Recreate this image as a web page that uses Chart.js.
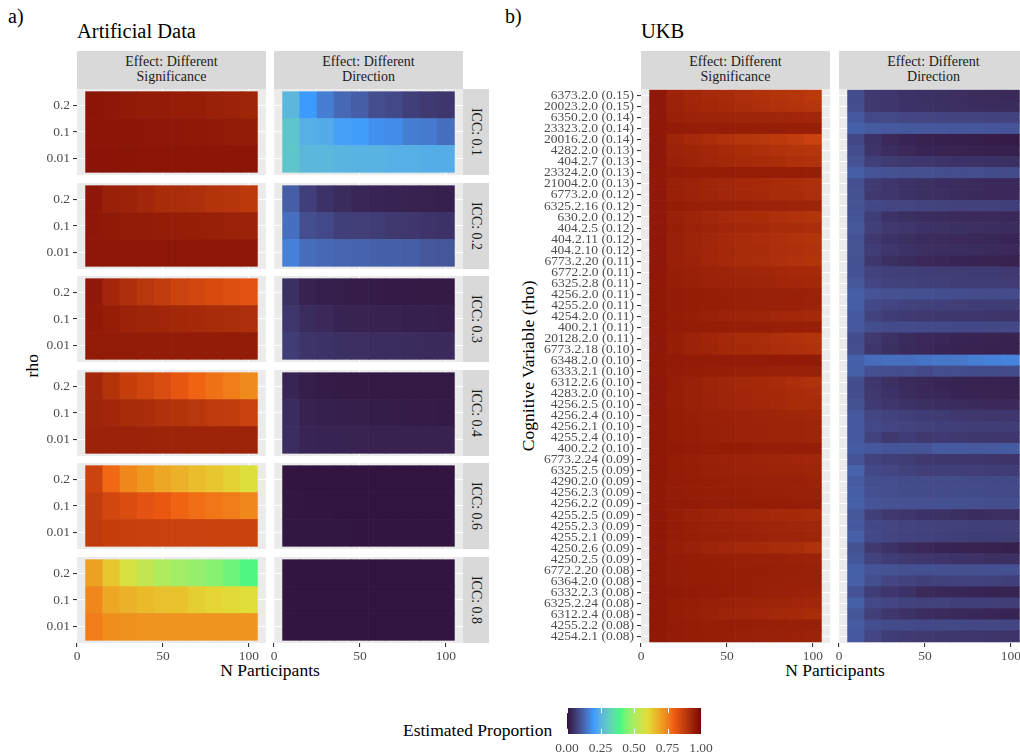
<!DOCTYPE html>
<html>
<head>
<meta charset="utf-8">
<title>Estimated proportion heatmaps</title>
<script src="https://cdn.jsdelivr.net/npm/chart.js@4.4.0/dist/chart.umd.min.js"></script>
<style>
  html, body { margin: 0; padding: 0; background: #ffffff; }
  body {
    width: 1020px; height: 756px; position: relative; overflow: hidden;
    font-family: "Liberation Serif", "Times New Roman", serif; color: #000;
  }
  canvas { position: absolute; display: block; }
  .txt { position: absolute; white-space: nowrap; line-height: 1; }
  .title { font-size: 20.5px; }
  .tag { font-size: 20px; }
  .axis-title { font-size: 17.5px; text-align: center; width: 300px; height: 17.5px; line-height: 17.5px; }
  .rot { transform: rotate(-90deg); }
  .strip { position: absolute; background: #d9d9d9; overflow: hidden; }
  .strip-text { position: absolute; text-align: center; font-size: 14px; color: #1a1a1a; white-space: nowrap; }
</style>
</head>
<body>

<div class="txt tag" style="left:8px; top:6px;">a)</div>
<div class="txt title" style="left:77px; top:20.5px;">Artificial Data</div>
<div class="txt tag" style="left:505px; top:6px;">b)</div>
<div class="txt title" style="left:641px; top:20.5px;">UKB</div>

<div class="txt axis-title rot" style="left:-117px; top:357px;">rho</div>
<div class="txt axis-title rot" style="left:379px; top:357px;">Cognitive Variable (rho)</div>
<div class="txt axis-title" style="left:120px; top:662px;">N Participants</div>
<div class="txt axis-title" style="left:685px; top:662px;">N Participants</div>
<div class="txt" style="left:403px; top:722px; font-size:17.5px;">Estimated Proportion</div>

<script>
Chart.defaults.font.family = "'Liberation Serif', 'Times New Roman', serif";

// ---- data -------------------------------------------------------------

const nParticipants = [10, 20, 30, 40, 50, 60, 70, 80, 90, 100];
const xTickLabels = [0, 50, 100];
const xGridBreaks = [0, 25, 50, 75, 100];
const legendTicks = [0, 0.25, 0.5, 0.75, 1];

const rhoLevels = ['0.01', '0.1', '0.2'];
const iccLevels = ['0.1', '0.2', '0.3', '0.4', '0.6', '0.8'];
const effectLabels = [['Effect: Different', 'Significance'], ['Effect: Different', 'Direction']];

// artificial data: one row per rho (0.01, 0.1, 0.2), one value per N
const sigIcc01 = [
  [0.972, 0.972, 0.971, 0.970, 0.970, 0.970, 0.970, 0.970, 0.969, 0.969],
  [0.970, 0.970, 0.970, 0.968, 0.966, 0.965, 0.963, 0.960, 0.958, 0.955],
  [0.970, 0.965, 0.960, 0.955, 0.955, 0.950, 0.950, 0.945, 0.940, 0.935]
];
const sigIcc02 = [
  [0.968, 0.968, 0.967, 0.967, 0.967, 0.967, 0.966, 0.966, 0.966, 0.966],
  [0.965, 0.960, 0.958, 0.955, 0.953, 0.950, 0.948, 0.946, 0.942, 0.940],
  [0.965, 0.945, 0.940, 0.930, 0.920, 0.915, 0.910, 0.900, 0.895, 0.885]
];
const sigIcc03 = [
  [0.958, 0.957, 0.957, 0.956, 0.956, 0.956, 0.955, 0.955, 0.955, 0.955],
  [0.960, 0.950, 0.942, 0.935, 0.932, 0.928, 0.922, 0.918, 0.915, 0.910],
  [0.962, 0.930, 0.910, 0.890, 0.875, 0.860, 0.850, 0.840, 0.830, 0.820]
];
const sigIcc04 = [
  [0.942, 0.940, 0.940, 0.940, 0.938, 0.938, 0.937, 0.937, 0.936, 0.936],
  [0.935, 0.930, 0.920, 0.915, 0.905, 0.900, 0.890, 0.880, 0.875, 0.865],
  [0.930, 0.900, 0.870, 0.855, 0.835, 0.815, 0.790, 0.770, 0.755, 0.735]
];
const sigIcc06 = [
  [0.880, 0.870, 0.868, 0.867, 0.866, 0.865, 0.865, 0.864, 0.864, 0.863],
  [0.875, 0.850, 0.835, 0.820, 0.810, 0.790, 0.775, 0.765, 0.755, 0.740],
  [0.860, 0.785, 0.740, 0.715, 0.690, 0.675, 0.655, 0.640, 0.620, 0.590]
];
const sigIcc08 = [
  [0.755, 0.730, 0.725, 0.720, 0.720, 0.720, 0.720, 0.720, 0.720, 0.720],
  [0.740, 0.690, 0.675, 0.660, 0.650, 0.645, 0.625, 0.615, 0.605, 0.595],
  [0.700, 0.640, 0.580, 0.540, 0.510, 0.490, 0.470, 0.455, 0.430, 0.405]
];

const dirIcc01 = [
  [0.290, 0.260, 0.260, 0.255, 0.250, 0.250, 0.245, 0.245, 0.240, 0.240],
  [0.290, 0.245, 0.235, 0.210, 0.205, 0.185, 0.180, 0.160, 0.155, 0.140],
  [0.260, 0.200, 0.160, 0.130, 0.115, 0.090, 0.085, 0.070, 0.062, 0.056]
];
const dirIcc02 = [
  [0.165, 0.135, 0.130, 0.125, 0.123, 0.120, 0.120, 0.115, 0.105, 0.103],
  [0.140, 0.090, 0.085, 0.070, 0.068, 0.065, 0.060, 0.057, 0.053, 0.050],
  [0.115, 0.070, 0.050, 0.040, 0.033, 0.030, 0.027, 0.025, 0.023, 0.021]
];
const dirIcc03 = [
  [0.065, 0.052, 0.050, 0.045, 0.043, 0.042, 0.041, 0.040, 0.039, 0.038],
  [0.055, 0.040, 0.035, 0.028, 0.026, 0.025, 0.024, 0.022, 0.021, 0.020],
  [0.045, 0.025, 0.020, 0.018, 0.016, 0.015, 0.014, 0.013, 0.012, 0.012]
];
const dirIcc04 = [
  [0.042, 0.030, 0.028, 0.027, 0.026, 0.025, 0.025, 0.024, 0.024, 0.024],
  [0.040, 0.025, 0.022, 0.020, 0.018, 0.017, 0.016, 0.015, 0.015, 0.014],
  [0.030, 0.018, 0.015, 0.013, 0.012, 0.011, 0.010, 0.010, 0.010, 0.010]
];
const dirIcc06 = [
  [0.008, 0.007, 0.007, 0.007, 0.006, 0.006, 0.006, 0.006, 0.006, 0.006],
  [0.007, 0.006, 0.006, 0.005, 0.005, 0.005, 0.005, 0.005, 0.005, 0.005],
  [0.006, 0.005, 0.005, 0.004, 0.004, 0.004, 0.004, 0.004, 0.004, 0.004]
];
const dirIcc08 = [
  [0.006, 0.005, 0.005, 0.005, 0.005, 0.005, 0.005, 0.005, 0.005, 0.005],
  [0.006, 0.005, 0.005, 0.005, 0.005, 0.005, 0.005, 0.005, 0.005, 0.005],
  [0.006, 0.005, 0.005, 0.005, 0.005, 0.005, 0.005, 0.005, 0.005, 0.005]
];

const artSignif = [sigIcc01, sigIcc02, sigIcc03, sigIcc04, sigIcc06, sigIcc08];
const artDirect = [dirIcc01, dirIcc02, dirIcc03, dirIcc04, dirIcc06, dirIcc08];

// UKB variables, listed top to bottom
const ukbVariables = [
  '6373.2.0 (0.15)', '20023.2.0 (0.15)', '6350.2.0 (0.14)', '23323.2.0 (0.14)', '20016.2.0 (0.14)',
  '4282.2.0 (0.13)', '404.2.7 (0.13)', '23324.2.0 (0.13)', '21004.2.0 (0.13)', '6773.2.0 (0.12)',
  '6325.2.16 (0.12)', '630.2.0 (0.12)', '404.2.5 (0.12)', '404.2.11 (0.12)', '404.2.10 (0.12)',
  '6773.2.20 (0.11)', '6772.2.0 (0.11)', '6325.2.8 (0.11)', '4256.2.0 (0.11)', '4255.2.0 (0.11)',
  '4254.2.0 (0.11)', '400.2.1 (0.11)', '20128.2.0 (0.11)', '6773.2.18 (0.10)', '6348.2.0 (0.10)',
  '6333.2.1 (0.10)', '6312.2.6 (0.10)', '4283.2.0 (0.10)', '4256.2.5 (0.10)', '4256.2.4 (0.10)',
  '4256.2.1 (0.10)', '4255.2.4 (0.10)', '400.2.2 (0.10)', '6773.2.24 (0.09)', '6325.2.5 (0.09)',
  '4290.2.0 (0.09)', '4256.2.3 (0.09)', '4256.2.2 (0.09)', '4255.2.5 (0.09)', '4255.2.3 (0.09)',
  '4255.2.1 (0.09)', '4250.2.6 (0.09)', '4250.2.5 (0.09)', '6772.2.20 (0.08)', '6364.2.0 (0.08)',
  '6332.2.3 (0.08)', '6325.2.24 (0.08)', '6312.2.4 (0.08)', '4255.2.2 (0.08)', '4254.2.1 (0.08)'
];

const ukbSignif = [
  [0.962, 0.940, 0.930, 0.925, 0.920, 0.910, 0.905, 0.900, 0.895, 0.885],
  [0.962, 0.940, 0.932, 0.927, 0.922, 0.915, 0.910, 0.905, 0.900, 0.895],
  [0.962, 0.945, 0.940, 0.938, 0.936, 0.935, 0.934, 0.933, 0.932, 0.930],
  [0.963, 0.955, 0.952, 0.950, 0.950, 0.950, 0.950, 0.950, 0.948, 0.948],
  [0.962, 0.935, 0.925, 0.915, 0.905, 0.895, 0.890, 0.885, 0.875, 0.865],
  [0.962, 0.940, 0.935, 0.930, 0.922, 0.915, 0.910, 0.905, 0.900, 0.895],
  [0.962, 0.945, 0.938, 0.932, 0.927, 0.922, 0.918, 0.915, 0.910, 0.905],
  [0.963, 0.955, 0.952, 0.952, 0.952, 0.950, 0.950, 0.950, 0.950, 0.948],
  [0.962, 0.945, 0.940, 0.935, 0.930, 0.925, 0.922, 0.918, 0.915, 0.910],
  [0.962, 0.945, 0.940, 0.935, 0.930, 0.927, 0.924, 0.920, 0.917, 0.913],
  [0.962, 0.952, 0.948, 0.946, 0.944, 0.942, 0.940, 0.940, 0.938, 0.936],
  [0.962, 0.945, 0.938, 0.930, 0.925, 0.920, 0.915, 0.910, 0.905, 0.900],
  [0.962, 0.948, 0.942, 0.936, 0.932, 0.928, 0.924, 0.920, 0.917, 0.914],
  [0.962, 0.945, 0.938, 0.930, 0.924, 0.918, 0.914, 0.910, 0.905, 0.900],
  [0.962, 0.945, 0.938, 0.932, 0.926, 0.920, 0.917, 0.912, 0.910, 0.906],
  [0.962, 0.945, 0.940, 0.930, 0.925, 0.920, 0.915, 0.910, 0.905, 0.900],
  [0.962, 0.948, 0.944, 0.940, 0.936, 0.933, 0.930, 0.928, 0.925, 0.922],
  [0.963, 0.950, 0.946, 0.942, 0.940, 0.937, 0.934, 0.932, 0.930, 0.928],
  [0.963, 0.955, 0.952, 0.950, 0.948, 0.946, 0.945, 0.944, 0.943, 0.942],
  [0.963, 0.955, 0.952, 0.950, 0.948, 0.946, 0.944, 0.943, 0.942, 0.940],
  [0.963, 0.952, 0.948, 0.945, 0.940, 0.937, 0.934, 0.930, 0.928, 0.925],
  [0.963, 0.956, 0.954, 0.952, 0.951, 0.950, 0.950, 0.949, 0.948, 0.947],
  [0.962, 0.948, 0.940, 0.932, 0.926, 0.920, 0.915, 0.910, 0.905, 0.900],
  [0.962, 0.948, 0.940, 0.934, 0.928, 0.923, 0.918, 0.914, 0.910, 0.905],
  [0.963, 0.958, 0.956, 0.955, 0.955, 0.955, 0.955, 0.955, 0.956, 0.955],
  [0.963, 0.955, 0.952, 0.950, 0.948, 0.947, 0.946, 0.945, 0.944, 0.943],
  [0.962, 0.950, 0.944, 0.938, 0.932, 0.926, 0.922, 0.918, 0.913, 0.905],
  [0.962, 0.950, 0.945, 0.940, 0.935, 0.930, 0.926, 0.922, 0.918, 0.914],
  [0.962, 0.950, 0.945, 0.940, 0.935, 0.930, 0.927, 0.924, 0.920, 0.917],
  [0.963, 0.953, 0.948, 0.945, 0.942, 0.940, 0.938, 0.935, 0.933, 0.930],
  [0.963, 0.953, 0.950, 0.946, 0.944, 0.942, 0.940, 0.938, 0.936, 0.934],
  [0.963, 0.953, 0.950, 0.946, 0.944, 0.942, 0.940, 0.938, 0.936, 0.934],
  [0.963, 0.957, 0.955, 0.953, 0.952, 0.952, 0.951, 0.950, 0.950, 0.950],
  [0.963, 0.952, 0.948, 0.945, 0.942, 0.940, 0.937, 0.934, 0.932, 0.930],
  [0.963, 0.953, 0.950, 0.947, 0.944, 0.942, 0.940, 0.938, 0.936, 0.934],
  [0.963, 0.955, 0.952, 0.950, 0.948, 0.946, 0.945, 0.944, 0.943, 0.942],
  [0.963, 0.955, 0.953, 0.951, 0.950, 0.948, 0.947, 0.946, 0.945, 0.944],
  [0.963, 0.957, 0.955, 0.954, 0.953, 0.953, 0.952, 0.952, 0.951, 0.951],
  [0.962, 0.952, 0.945, 0.940, 0.935, 0.932, 0.928, 0.925, 0.922, 0.918],
  [0.963, 0.953, 0.948, 0.945, 0.942, 0.940, 0.937, 0.935, 0.932, 0.930],
  [0.963, 0.954, 0.950, 0.947, 0.944, 0.942, 0.940, 0.938, 0.936, 0.934],
  [0.962, 0.950, 0.944, 0.938, 0.932, 0.926, 0.922, 0.918, 0.915, 0.905],
  [0.963, 0.955, 0.952, 0.950, 0.948, 0.946, 0.944, 0.943, 0.942, 0.940],
  [0.963, 0.956, 0.954, 0.952, 0.950, 0.949, 0.948, 0.947, 0.946, 0.945],
  [0.963, 0.956, 0.954, 0.952, 0.950, 0.949, 0.947, 0.946, 0.945, 0.944],
  [0.965, 0.960, 0.958, 0.956, 0.953, 0.950, 0.947, 0.944, 0.942, 0.940],
  [0.963, 0.954, 0.950, 0.946, 0.943, 0.940, 0.937, 0.934, 0.932, 0.930],
  [0.963, 0.953, 0.948, 0.943, 0.938, 0.933, 0.930, 0.926, 0.922, 0.915],
  [0.963, 0.955, 0.952, 0.950, 0.950, 0.950, 0.948, 0.948, 0.947, 0.946],
  [0.963, 0.955, 0.952, 0.950, 0.948, 0.946, 0.944, 0.943, 0.942, 0.940]
];

const ukbDirect = [
  [0.090, 0.060, 0.055, 0.050, 0.047, 0.045, 0.043, 0.040, 0.038, 0.036],
  [0.090, 0.060, 0.055, 0.050, 0.048, 0.046, 0.044, 0.042, 0.040, 0.040],
  [0.108, 0.085, 0.083, 0.080, 0.080, 0.078, 0.077, 0.076, 0.075, 0.075],
  [0.118, 0.110, 0.108, 0.106, 0.105, 0.105, 0.104, 0.103, 0.102, 0.100],
  [0.082, 0.050, 0.035, 0.030, 0.025, 0.022, 0.020, 0.018, 0.016, 0.015],
  [0.090, 0.052, 0.042, 0.035, 0.030, 0.028, 0.026, 0.024, 0.023, 0.022],
  [0.098, 0.070, 0.062, 0.058, 0.055, 0.052, 0.050, 0.048, 0.047, 0.046],
  [0.115, 0.100, 0.097, 0.095, 0.094, 0.092, 0.090, 0.090, 0.088, 0.088],
  [0.094, 0.062, 0.055, 0.050, 0.045, 0.042, 0.040, 0.038, 0.036, 0.035],
  [0.098, 0.060, 0.055, 0.050, 0.046, 0.043, 0.040, 0.038, 0.036, 0.035],
  [0.098, 0.085, 0.080, 0.078, 0.076, 0.074, 0.073, 0.072, 0.071, 0.070],
  [0.100, 0.065, 0.050, 0.045, 0.042, 0.040, 0.038, 0.036, 0.035, 0.034],
  [0.103, 0.070, 0.060, 0.055, 0.050, 0.048, 0.046, 0.044, 0.042, 0.040],
  [0.098, 0.060, 0.050, 0.045, 0.040, 0.038, 0.036, 0.034, 0.032, 0.030],
  [0.098, 0.065, 0.055, 0.050, 0.046, 0.044, 0.042, 0.040, 0.038, 0.036],
  [0.098, 0.058, 0.045, 0.040, 0.035, 0.033, 0.030, 0.028, 0.026, 0.025],
  [0.098, 0.075, 0.070, 0.068, 0.066, 0.064, 0.063, 0.062, 0.061, 0.060],
  [0.103, 0.080, 0.075, 0.072, 0.070, 0.068, 0.066, 0.065, 0.064, 0.063],
  [0.115, 0.100, 0.096, 0.095, 0.094, 0.092, 0.090, 0.089, 0.088, 0.087],
  [0.115, 0.085, 0.078, 0.075, 0.072, 0.070, 0.068, 0.066, 0.065, 0.064],
  [0.108, 0.075, 0.065, 0.062, 0.060, 0.058, 0.056, 0.055, 0.054, 0.053],
  [0.108, 0.090, 0.088, 0.087, 0.086, 0.085, 0.085, 0.085, 0.084, 0.084],
  [0.090, 0.060, 0.048, 0.040, 0.036, 0.033, 0.030, 0.028, 0.026, 0.025],
  [0.090, 0.055, 0.045, 0.038, 0.034, 0.030, 0.028, 0.026, 0.025, 0.024],
  [0.120, 0.135, 0.140, 0.140, 0.145, 0.150, 0.150, 0.160, 0.165, 0.168],
  [0.118, 0.095, 0.090, 0.090, 0.085, 0.090, 0.090, 0.088, 0.088, 0.087],
  [0.090, 0.055, 0.045, 0.038, 0.034, 0.030, 0.028, 0.026, 0.024, 0.023],
  [0.090, 0.060, 0.050, 0.040, 0.036, 0.033, 0.030, 0.028, 0.026, 0.025],
  [0.098, 0.062, 0.055, 0.050, 0.045, 0.042, 0.040, 0.038, 0.036, 0.035],
  [0.108, 0.080, 0.075, 0.070, 0.066, 0.063, 0.060, 0.058, 0.056, 0.055],
  [0.108, 0.085, 0.080, 0.076, 0.073, 0.070, 0.068, 0.066, 0.065, 0.064],
  [0.108, 0.075, 0.060, 0.065, 0.060, 0.062, 0.060, 0.058, 0.057, 0.056],
  [0.112, 0.105, 0.100, 0.100, 0.100, 0.110, 0.110, 0.108, 0.110, 0.112],
  [0.100, 0.075, 0.068, 0.064, 0.060, 0.058, 0.056, 0.055, 0.054, 0.053],
  [0.122, 0.085, 0.080, 0.072, 0.068, 0.070, 0.070, 0.068, 0.066, 0.065],
  [0.112, 0.090, 0.090, 0.088, 0.088, 0.087, 0.087, 0.086, 0.085, 0.085],
  [0.115, 0.095, 0.090, 0.088, 0.088, 0.087, 0.087, 0.086, 0.085, 0.084],
  [0.118, 0.100, 0.098, 0.096, 0.095, 0.095, 0.094, 0.093, 0.092, 0.092],
  [0.103, 0.070, 0.060, 0.055, 0.050, 0.048, 0.046, 0.040, 0.044, 0.043],
  [0.108, 0.085, 0.080, 0.077, 0.075, 0.073, 0.071, 0.070, 0.069, 0.068],
  [0.116, 0.085, 0.078, 0.075, 0.072, 0.070, 0.068, 0.066, 0.065, 0.064],
  [0.098, 0.060, 0.050, 0.040, 0.035, 0.030, 0.028, 0.026, 0.024, 0.022],
  [0.103, 0.075, 0.065, 0.060, 0.056, 0.053, 0.050, 0.048, 0.046, 0.045],
  [0.118, 0.100, 0.097, 0.095, 0.094, 0.094, 0.093, 0.093, 0.095, 0.095],
  [0.116, 0.090, 0.080, 0.075, 0.070, 0.072, 0.075, 0.075, 0.072, 0.070],
  [0.098, 0.065, 0.055, 0.050, 0.035, 0.034, 0.032, 0.030, 0.028, 0.027],
  [0.118, 0.085, 0.080, 0.075, 0.073, 0.072, 0.070, 0.069, 0.068, 0.067],
  [0.103, 0.068, 0.055, 0.048, 0.042, 0.038, 0.035, 0.032, 0.030, 0.028],
  [0.112, 0.090, 0.088, 0.086, 0.085, 0.084, 0.083, 0.082, 0.081, 0.080],
  [0.108, 0.080, 0.065, 0.062, 0.060, 0.058, 0.056, 0.055, 0.054, 0.053]
];

// ---- colour scale: six turbo colours, blended in CIELAB ------------------

const turboStops = ['#30123B', '#3E9BFE', '#46F884', '#E1DD37', '#F05B12', '#7A0403'];
const WHITE = [0.95047, 1, 1.08883];

function hexToRgb(hex) {
  return [1, 3, 5].map(i => parseInt(hex.slice(i, i + 2), 16));
}

function rgbToLab(rgb) {
  const lin = rgb.map(c => {
    c /= 255;
    return c <= 0.04045 ? c / 12.92 : Math.pow((c + 0.055) / 1.055, 2.4);
  });
  const xyz = [
    (0.4124 * lin[0] + 0.3576 * lin[1] + 0.1805 * lin[2]) / WHITE[0],
    (0.2126 * lin[0] + 0.7152 * lin[1] + 0.0722 * lin[2]) / WHITE[1],
    (0.0193 * lin[0] + 0.1192 * lin[1] + 0.9505 * lin[2]) / WHITE[2]
  ];
  const f = xyz.map(t => t > 0.008856 ? Math.cbrt(t) : 7.787 * t + 16 / 116);
  return [116 * f[1] - 16, 500 * (f[0] - f[1]), 200 * (f[1] - f[2])];
}

function labToRgb([L, a, b]) {
  const fy = (L + 16) / 116, fx = fy + a / 500, fz = fy - b / 200;
  const inv = t => (t * t * t > 0.008856 ? t * t * t : (t - 16 / 116) / 7.787);
  const X = inv(fx) * WHITE[0], Y = inv(fy) * WHITE[1], Z = inv(fz) * WHITE[2];
  const lin = [
    3.2406 * X - 1.5372 * Y - 0.4986 * Z,
    -0.9689 * X + 1.8758 * Y + 0.0415 * Z,
    0.0557 * X - 0.2040 * Y + 1.0570 * Z
  ];
  return lin.map(c => {
    const s = c <= 0.0031308 ? 12.92 * c : 1.055 * Math.pow(c, 1 / 2.4) - 0.055;
    return Math.round(Math.min(Math.max(s, 0), 1) * 255);
  });
}

const stopLabs = turboStops.map(h => rgbToLab(hexToRgb(h)));

function fillColour(v) {
  const t = Math.min(Math.max(v, 0), 1) * (stopLabs.length - 1);
  const i = Math.min(Math.floor(t), stopLabs.length - 2);
  const f = t - i;
  const lab = stopLabs[i].map((c, k) => c + (stopLabs[i + 1][k] - c) * f);
  const [r, g, b] = labToRgb(lab);
  return `rgb(${r},${g},${b})`;
}

// ---- drawing helpers -----------------------------------------------------

const M = 14;          // spare room round each canvas for labels that overhang
const X_AXIS_H = 20;
const TICK_FONT = { size: 13.5 };

const panelBackground = {
  id: 'panelBackground',
  beforeDraw(chart) {
    const { ctx, chartArea: a } = chart;
    ctx.save();
    ctx.fillStyle = '#ebebeb';
    ctx.fillRect(a.left, a.top, a.right - a.left, a.bottom - a.top);
    ctx.restore();
  }
};

function heatPanel({ left, top, width, height, rowLabels, values, yAxisWidth = 0, showX = false }) {
  const showY = yAxisWidth > 0;
  const canvas = document.createElement('canvas');
  canvas.width = M + yAxisWidth + width + M;
  canvas.height = M + height + (showX ? X_AXIS_H : 0) + M;
  canvas.style.left = (left - yAxisWidth - M) + 'px';
  canvas.style.top = (top - M) + 'px';
  document.body.appendChild(canvas);

  const major = c => !!c.tick && xTickLabels.includes(c.tick.value);

  return new Chart(canvas, {
    type: 'bar',
    data: {
      datasets: values.map((row, r) => ({
        data: nParticipants.map(n => ({ x: n, y: [r + 0.5, r + 1.5] })),
        backgroundColor: row.map(fillColour),
        borderWidth: 0,
        grouped: false,
        barPercentage: 1,
        categoryPercentage: 1
      }))
    },
    options: {
      responsive: false,
      animation: false,
      events: [],
      layout: { padding: M },
      plugins: { legend: { display: false }, tooltip: { enabled: false } },
      scales: {
        x: {
          type: 'linear', min: 0, max: 110, offset: false,
          afterBuildTicks: s => { s.ticks = xGridBreaks.map(v => ({ value: v })); },
          afterFit: s => { s.height = showX ? X_AXIS_H : 0; s.paddingLeft = 0; s.paddingRight = 0; },
          border: { display: false },
          grid: {
            offset: false,
            color: '#ffffff',
            lineWidth: c => major(c) ? 1.1 : 0.55,
            drawTicks: showX,
            tickLength: 4,
            tickWidth: 1.1,
            tickColor: c => major(c) ? '#333333' : 'rgba(0,0,0,0)'
          },
          ticks: {
            display: showX, autoSkip: false, maxRotation: 0, padding: 1,
            color: '#4d4d4d', font: TICK_FONT,
            callback: v => xTickLabels.includes(v) ? String(v) : ''
          }
        },
        y: {
          type: 'linear', min: 0.4, max: rowLabels.length + 0.6,
          afterBuildTicks: s => { s.ticks = rowLabels.map((_, i) => ({ value: i + 1 })); },
          afterFit: s => { s.width = yAxisWidth; s.paddingTop = 0; s.paddingBottom = 0; },
          border: { display: false },
          grid: { color: '#ffffff', lineWidth: 1.1, drawTicks: showY, tickLength: 4, tickWidth: 1.1, tickColor: '#333333' },
          ticks: {
            display: showY, autoSkip: false, padding: 3,
            color: '#4d4d4d', font: TICK_FONT,
            callback: v => rowLabels[v - 1]
          }
        }
      }
    },
    plugins: [panelBackground]
  });
}

function addStrip(left, top, width, height, lines, rotated) {
  const box = document.createElement('div');
  box.className = 'strip';
  Object.assign(box.style, { left: left + 'px', top: top + 'px', width: width + 'px', height: height + 'px' });
  const label = document.createElement('div');
  label.className = 'strip-text';
  lines.forEach((line, i) => {
    if (i) label.appendChild(document.createElement('br'));
    label.appendChild(document.createTextNode(line));
  });
  if (rotated) {
    Object.assign(label.style, {
      width: height + 'px', height: width + 'px', lineHeight: width + 'px',
      left: (width - height) / 2 + 'px', top: (height - width) / 2 + 'px',
      transform: 'rotate(90deg)'
    });
  } else {
    Object.assign(label.style, { width: width + 'px', lineHeight: '15.2px', left: '0px', top: '3px' });
  }
  box.appendChild(label);
  document.body.appendChild(box);
}

function colourBar(left, top, width, height) {
  const pad = 20;
  const canvas = document.createElement('canvas');
  canvas.width = pad + width + pad;
  canvas.height = height + 22;
  canvas.style.left = (left - pad) + 'px';
  canvas.style.top = top + 'px';
  document.body.appendChild(canvas);

  new Chart(canvas, {
    type: 'scatter',
    data: { datasets: [] },
    options: {
      responsive: false,
      animation: false,
      events: [],
      layout: { padding: { left: pad, right: pad, top: 0, bottom: 0 } },
      plugins: { legend: { display: false }, tooltip: { enabled: false } },
      scales: {
        x: {
          type: 'linear', min: 0, max: 1,
          afterBuildTicks: s => { s.ticks = legendTicks.map(v => ({ value: v })); },
          afterFit: s => { s.height = 22; s.paddingLeft = 0; s.paddingRight = 0; },
          grid: { display: false, drawTicks: false },
          border: { display: false },
          ticks: { autoSkip: false, maxRotation: 0, padding: 6, color: '#4d4d4d', font: TICK_FONT, callback: v => v.toFixed(2) }
        },
        y: { display: false, min: 0, max: 1 }
      }
    },
    plugins: [{
      id: 'colourRamp',
      beforeDatasetsDraw(chart) {
        const { ctx, chartArea: a, scales: { x } } = chart;
        const grad = ctx.createLinearGradient(a.left, 0, a.right, 0);
        for (let k = 0; k <= 40; k++) grad.addColorStop(k / 40, fillColour(k / 40));
        ctx.save();
        ctx.fillStyle = grad;
        ctx.fillRect(a.left, a.top, a.right - a.left, a.bottom - a.top);
        ctx.strokeStyle = '#ffffff';
        ctx.lineWidth = 1;
        const tick = (a.bottom - a.top) / 5;
        legendTicks.forEach(v => {
          const px = Math.round(x.getPixelForValue(v)) + 0.5;
          ctx.beginPath();
          ctx.moveTo(px, a.top); ctx.lineTo(px, a.top + tick);
          ctx.moveTo(px, a.bottom - tick); ctx.lineTo(px, a.bottom);
          ctx.stroke();
        });
        ctx.restore();
      }
    }]
  });
}

// ---- layout ----------------------------------------------------------------

const AREA_W = 189;
const artCols = [77, 274];
const artRowTops = [89, 183, 276, 370, 463, 557];
const artRowH = 86;
const ukbCols = [641, 839];
const ukbTop = 89;
const ukbH = 554;

// strips across the top
artCols.forEach((x, c) => addStrip(x, 51, AREA_W, 38, effectLabels[c], false));
ukbCols.forEach((x, c) => addStrip(x, 51, AREA_W, 38, effectLabels[c], false));
// ICC strips down the right of panel a
artRowTops.forEach((y, r) => addStrip(artCols[1] + AREA_W, y, 26, artRowH, ['ICC: ' + iccLevels[r]], true));

// panel a: six ICC rows by two effects
artRowTops.forEach((y, r) => {
  const bottom = r === artRowTops.length - 1;
  heatPanel({ left: artCols[0], top: y, width: AREA_W, height: artRowH, rowLabels: rhoLevels,
              values: artSignif[r], yAxisWidth: 77, showX: bottom });
  heatPanel({ left: artCols[1], top: y, width: AREA_W, height: artRowH, rowLabels: rhoLevels,
              values: artDirect[r], showX: bottom });
});

// panel b: UKB variables, first listed at the top
const ukbRows = ukbVariables.slice().reverse();
heatPanel({ left: ukbCols[0], top: ukbTop, width: AREA_W, height: ukbH, rowLabels: ukbRows,
            values: ukbSignif.slice().reverse(), yAxisWidth: 141, showX: true });
heatPanel({ left: ukbCols[1], top: ukbTop, width: AREA_W, height: ukbH, rowLabels: ukbRows,
            values: ukbDirect.slice().reverse(), showX: true });

colourBar(567, 708, 134, 26);
</script>
</body>
</html>
